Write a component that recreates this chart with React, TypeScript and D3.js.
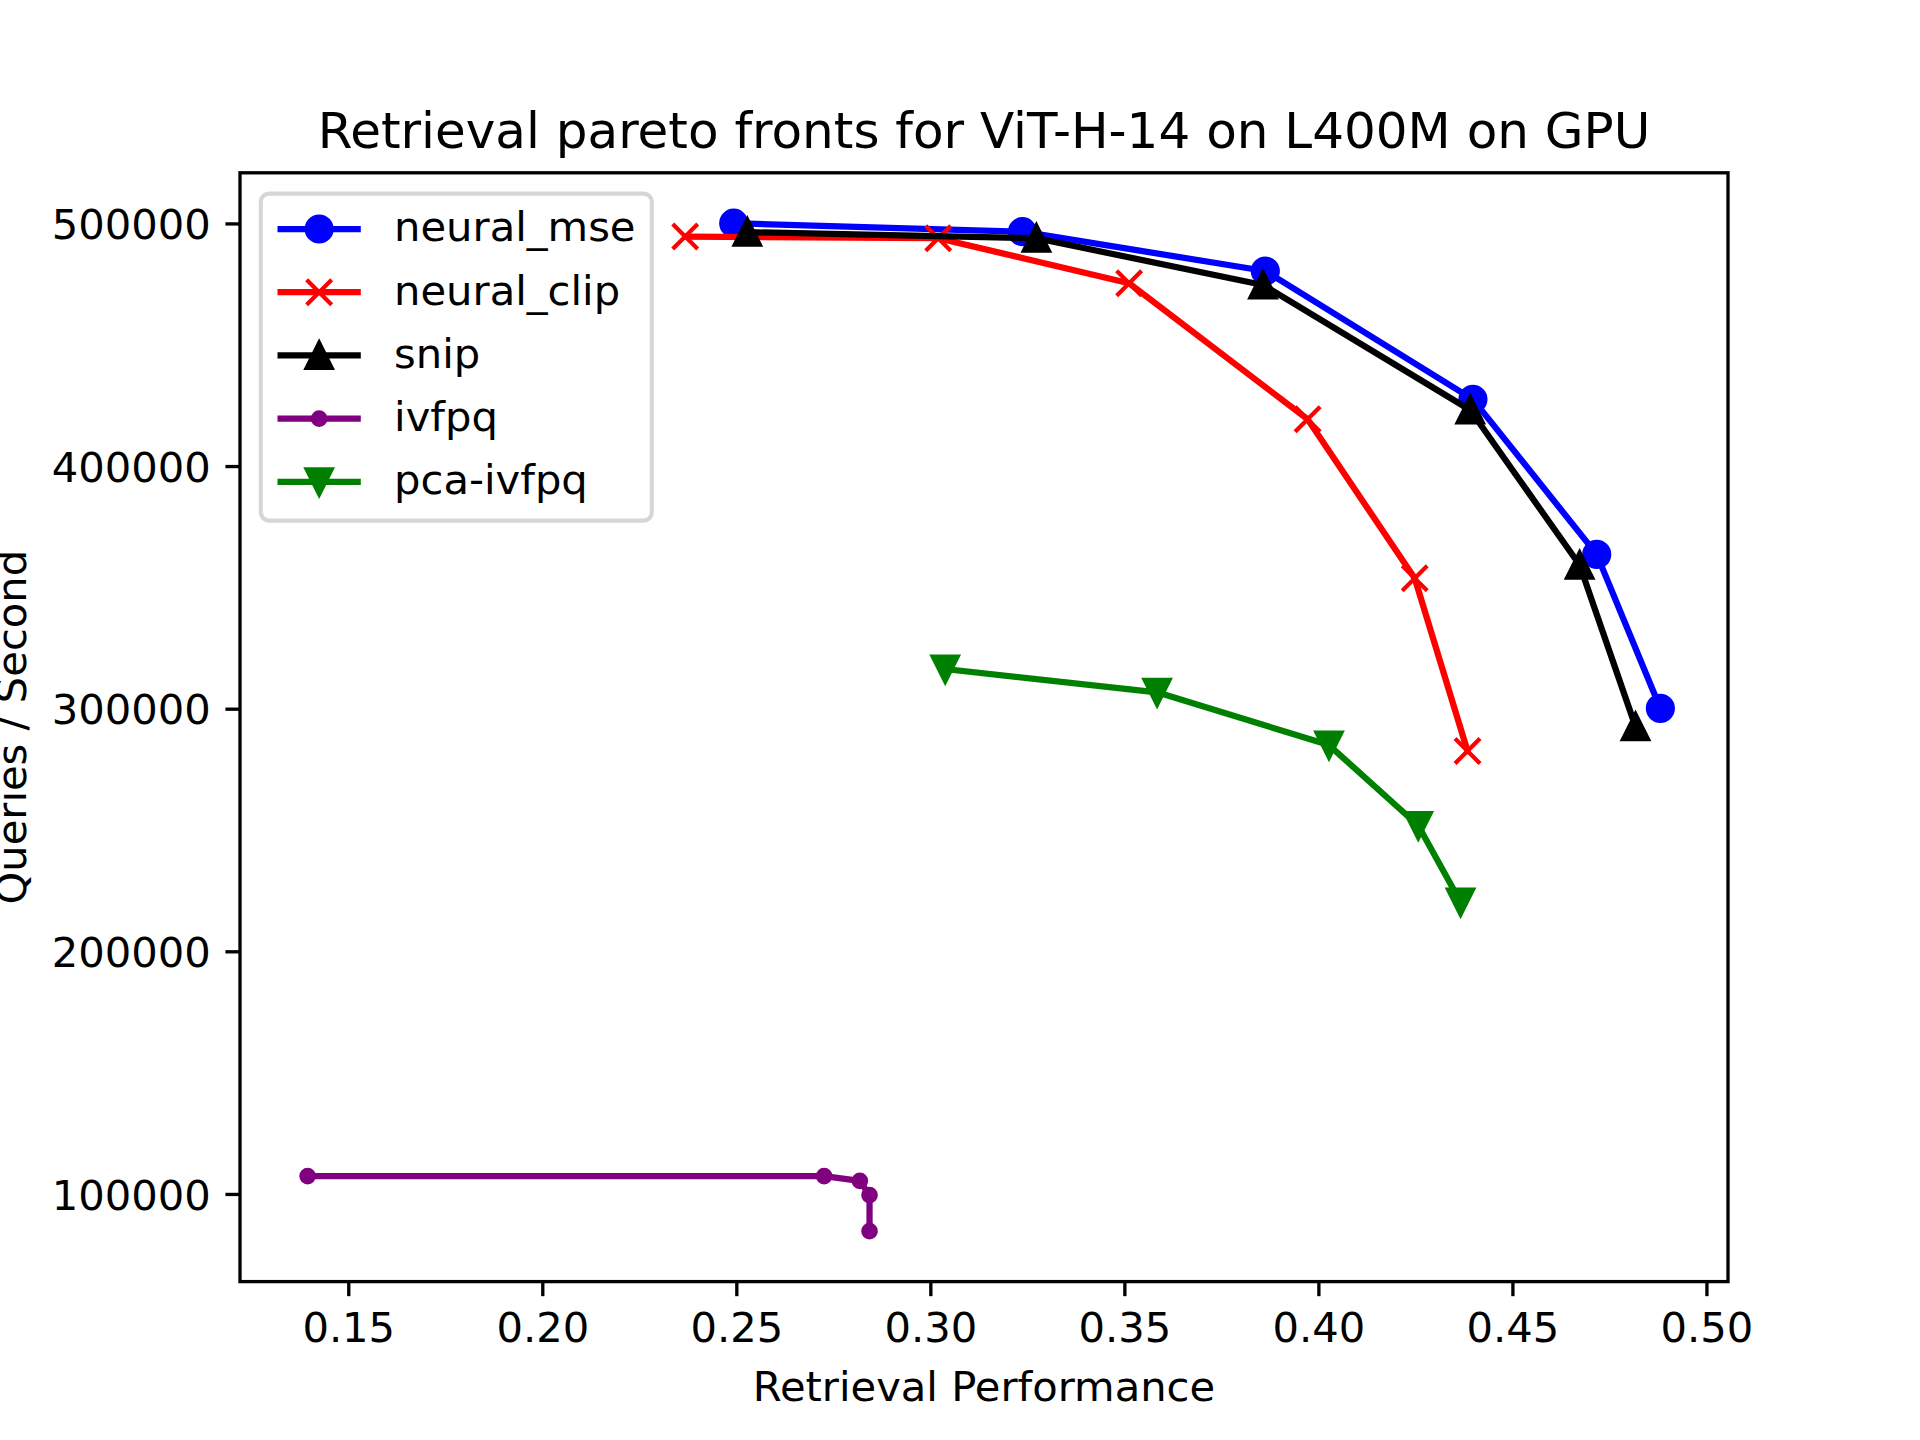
import React from "react";
import * as d3 from "d3";

// ---- data ----
const TITLE = "Retrieval pareto fronts for ViT-H-14 on L400M on GPU";
const X_LABEL = "Retrieval Performance";
const Y_LABEL = "Queries / Second";
const X_TICKS = [0.15, 0.2, 0.25, 0.3, 0.35, 0.4, 0.45, 0.5];
const Y_TICKS = [100000, 200000, 300000, 400000, 500000];

const mseX = [0.2492, 0.3236, 0.3862, 0.4397, 0.4716, 0.488];
const mseY = [500300, 496800, 480600, 427700, 363800, 300350];
const clipX = [0.2367, 0.3019, 0.3511, 0.3971, 0.4247, 0.4383];
const clipY = [494800, 494100, 475550, 419500, 353950, 282750];
const snipX = [0.2527, 0.3272, 0.3856, 0.439, 0.4672, 0.4816];
const snipY = [496600, 494100, 474850, 423300, 359400, 292800];
const ivfpqX = [0.1394, 0.2725, 0.2817, 0.2842, 0.2842];
const ivfpqY = [107550, 107550, 105600, 99700, 84850];
const pcaX = [0.3037, 0.3583, 0.4026, 0.4256, 0.4365];
const pcaY = [316550, 306950, 285200, 252050, 220500];

const SERIES_NAMES = ["neural_mse", "neural_clip", "snip", "ivfpq", "pca-ivfpq"];
const SERIES_COLORS = ["#0000ff", "#ff0000", "#000000", "#800080", "#008000"];
const SERIES_MARKERS = ["o", "x", "^", ".", "v"];
const SERIES_X = [mseX, clipX, snipX, ivfpqX, pcaX];
const SERIES_Y = [mseY, clipY, snipY, ivfpqY, pcaY];

// ---- layout (matplotlib defaults at 300 dpi) ----
const W = 1920;
const H = 1440;
const L = 240;
const R = 1728;
const T = 172.8;
const B = 1281.6;
const FS = 41.67;
const LW = 6.25;
const MS = 25;
const MEW = 4.17;
const FONT = "DejaVu Sans";

function Marker({ type, x, y, color }: { type: string; x: number; y: number; color: string }) {
  const h = MS / 2;
  if (type === "o") {
    return <circle cx={x} cy={y} r={h} fill={color} stroke={color} strokeWidth={MEW} />;
  }
  if (type === ".") {
    return <circle cx={x} cy={y} r={h / 2} fill={color} stroke={color} strokeWidth={MEW} />;
  }
  if (type === "x") {
    return (
      <path
        d={`M${x - h},${y - h}L${x + h},${y + h}M${x - h},${y + h}L${x + h},${y - h}`}
        stroke={color}
        strokeWidth={MEW}
        fill="none"
      />
    );
  }
  if (type === "^") {
    return (
      <path
        d={`M${x},${y - h}L${x - h},${y + h}L${x + h},${y + h}Z`}
        fill={color}
        stroke={color}
        strokeWidth={MEW}
        strokeLinejoin="miter"
      />
    );
  }
  // "v"
  return (
    <path
      d={`M${x},${y + h}L${x - h},${y - h}L${x + h},${y - h}Z`}
      fill={color}
      stroke={color}
      strokeWidth={MEW}
      strokeLinejoin="miter"
    />
  );
}

export default function App() {
  const allX = SERIES_X.flat();
  const allY = SERIES_Y.flat();
  const [x0, x1] = d3.extent(allX) as [number, number];
  const [y0, y1] = d3.extent(allY) as [number, number];
  const mx = (x1 - x0) * 0.05;
  const my = (y1 - y0) * 0.05;
  const xs = d3.scaleLinear().domain([x0 - mx, x1 + mx]).range([L, R]);
  const ys = d3.scaleLinear().domain([y0 - my, y1 + my]).range([B, T]);
  const line = d3
    .line<[number, number]>()
    .x((d) => xs(d[0]))
    .y((d) => ys(d[1]));

  const tickLen = 14.58;
  const tickW = 3.33;

  // legend layout
  const legL = 260.8;
  const legT = 193.6;
  const legW = 391;
  const legH = 327;
  const rowC0 = 229;
  const rowStep = 63.2;
  const hx0 = 277.5;
  const hx1 = 360.8;
  const tx = 394.1;

  return (
    <div style={{ position: "absolute", left: 0, top: 0, width: W, height: H }}>
      <svg width={W} height={H} viewBox={`0 0 ${W} ${H}`} style={{ display: "block", background: "#fff" }} fontFamily={FONT}>
        <rect x={0} y={0} width={W} height={H} fill="#ffffff" />
        <defs>
          <clipPath id="axclip">
            <rect x={L} y={T} width={R - L} height={B - T} />
          </clipPath>
        </defs>

        {/* series */}
        <g clipPath="url(#axclip)">
          {SERIES_NAMES.map((name, i) => {
            const pts = SERIES_X[i].map((v, j) => [v, SERIES_Y[i][j]] as [number, number]);
            return (
              <g key={name}>
                <path d={line(pts) || ""} fill="none" stroke={SERIES_COLORS[i]} strokeWidth={LW} strokeLinejoin="round" strokeLinecap="square" />
                {pts.map((p, j) => (
                  <Marker key={j} type={SERIES_MARKERS[i]} x={xs(p[0])} y={ys(p[1])} color={SERIES_COLORS[i]} />
                ))}
              </g>
            );
          })}
        </g>

        {/* spines */}
        <rect x={L} y={T} width={R - L} height={B - T} fill="none" stroke="#000" strokeWidth={tickW} strokeLinejoin="miter" />

        {/* x ticks */}
        {X_TICKS.map((t) => (
          <g key={t}>
            <line x1={xs(t)} x2={xs(t)} y1={B} y2={B + tickLen} stroke="#000" strokeWidth={tickW} />
            <text x={xs(t)} y={B + 2 * tickLen + 31.7} fontSize={FS} textAnchor="middle" fill="#000">
              {d3.format(".2f")(t)}
            </text>
          </g>
        ))}

        {/* y ticks */}
        {Y_TICKS.map((t) => (
          <g key={t}>
            <line x1={L - tickLen} x2={L} y1={ys(t)} y2={ys(t)} stroke="#000" strokeWidth={tickW} />
            <text x={L - 2 * tickLen} y={ys(t) + 15.2} fontSize={FS} textAnchor="end" fill="#000">
              {d3.format("d")(t)}
            </text>
          </g>
        ))}

        {/* labels */}
        <text x={(L + R) / 2} y={1400.5} fontSize={FS} textAnchor="middle" fill="#000">
          {X_LABEL}
        </text>
        <text
          transform={`translate(25.5,${(T + B) / 2}) rotate(-90)`}
          fontSize={FS}
          textAnchor="middle"
          fill="#000"
        >
          {Y_LABEL}
        </text>
        <text x={(L + R) / 2} y={147.8} fontSize={50} textAnchor="middle" fill="#000">
          {TITLE}
        </text>

        {/* legend */}
        <rect
          x={legL}
          y={legT}
          width={legW}
          height={legH}
          rx={8.3}
          ry={8.3}
          fill="#ffffff"
          fillOpacity={0.8}
          stroke="#cccccc"
          strokeOpacity={0.8}
          strokeWidth={4.17}
        />
        {SERIES_NAMES.map((name, i) => {
          const cy = rowC0 + i * rowStep;
          return (
            <g key={name}>
              <line x1={hx0} x2={hx1} y1={cy} y2={cy} stroke={SERIES_COLORS[i]} strokeWidth={LW} />
              <Marker type={SERIES_MARKERS[i]} x={(hx0 + hx1) / 2} y={cy} color={SERIES_COLORS[i]} />
              <text x={tx} y={cy + 12.3} fontSize={FS} fill="#000">
                {name}
              </text>
            </g>
          );
        })}
      </svg>
    </div>
  );
}
